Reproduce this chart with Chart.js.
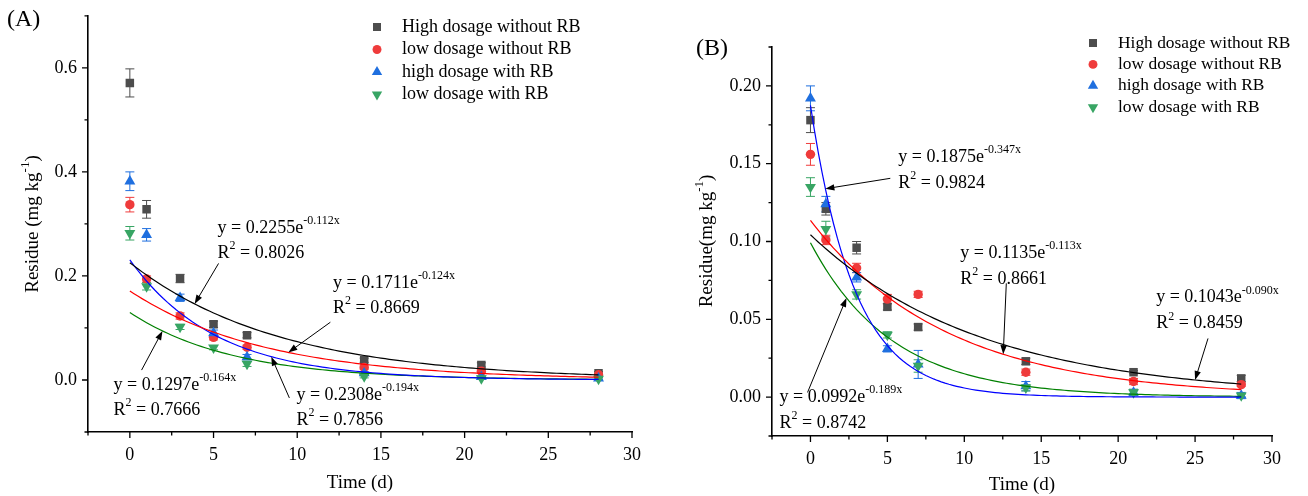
<!DOCTYPE html>
<html>
<head>
<meta charset="utf-8">
<script src="https://cdn.jsdelivr.net/npm/chart.js@4.4.1/dist/chart.umd.min.js"></script>
<style>
  html, body { margin: 0; padding: 0; background: #fff; }
  #wrap { position: relative; width: 1308px; height: 496px; }
  .panel { position: absolute; top: 0; width: 654px; height: 496px; }
</style>
</head>
<body>
<div id="wrap">
  <div class="panel" style="left:0"><canvas id="chartA" width="654" height="496"></canvas></div>
  <div class="panel" style="left:654px"><canvas id="chartB" width="654" height="496"></canvas></div>
</div>
<script>
// sampling days
const days = [0, 1, 3, 5, 7, 14, 21, 28];
const seriesNames = ['High dosage without RB', 'low dosage without RB', 'high dosage with RB', 'low dosage with RB'];

// panel A residues (mg/kg) and standard deviations
const highNoRbA = [0.571, 0.328, 0.195, 0.107, 0.086, 0.038, 0.029, 0.013];
const highNoRbErrA = [0.027, 0.017, 0.008, 0.006, 0.005, 0.004, 0.004, 0.003];
const lowNoRbA = [0.337, 0.194, 0.123, 0.082, 0.063, 0.024, 0.017, 0.010];
const lowNoRbErrA = [0.014, 0.006, 0.006, 0.005, 0.004, 0.003, 0.003, 0.002];
const highRbA = [0.382, 0.279, 0.158, 0.090, 0.044, 0.013, 0.006, 0.003];
const highRbErrA = [0.018, 0.012, 0.007, 0.006, 0.005, 0.003, 0.002, 0.002];
const lowRbA = [0.282, 0.180, 0.102, 0.062, 0.031, 0.007, 0.003, 0.002];
const lowRbErrA = [0.013, 0.007, 0.005, 0.004, 0.005, 0.003, 0.002, 0.002];

// panel B residues and standard deviations
const highNoRbB = [0.178, 0.121, 0.096, 0.058, 0.045, 0.023, 0.016, 0.012];
const highNoRbErrB = [0.008, 0.004, 0.004, 0.002, 0.002, 0.002, 0.001, 0.002];
const lowNoRbB = [0.156, 0.101, 0.083, 0.063, 0.066, 0.016, 0.010, 0.008];
const lowNoRbErrB = [0.007, 0.003, 0.003, 0.003, 0.002, 0.002, 0.002, 0.001];
const highRbB = [0.192, 0.124, 0.077, 0.031, 0.021, 0.007, 0.003, 0.001];
const highRbErrB = [0.008, 0.005, 0.003, 0.002, 0.009, 0.003, 0.002, 0.002];
const lowRbB = [0.135, 0.108, 0.066, 0.040, 0.020, 0.006, 0.003, 0.001];
const lowRbErrB = [0.006, 0.005, 0.003, 0.002, 0.004, 0.002, 0.002, 0.001];

// first-order fits y = a*e^(-k*x), same series order
const fitAmpA = [0.2255, 0.1711, 0.2308, 0.1297];
const fitRateA = [0.112, 0.124, 0.194, 0.164];
const fitR2A = ['0.8026', '0.8669', '0.7856', '0.7666'];
const fitAmpB = [0.1043, 0.1135, 0.1875, 0.0992];
const fitRateB = [0.090, 0.113, 0.347, 0.189];
const fitR2B = ['0.8459', '0.8661', '0.9824', '0.8742'];

// axis ticks
const xTicks = [-2.5, 0, 2.5, 5, 7.5, 10, 12.5, 15, 17.5, 20, 22.5, 25, 27.5, 30];
const xTickLabels = ['', '0', '', '5', '', '10', '', '15', '', '20', '', '25', '', '30'];
const yTicksA = [-0.1, 0, 0.1, 0.2, 0.3, 0.4, 0.5, 0.6, 0.7];
const yTickLabelsA = ['', '0.0', '', '0.2', '', '0.4', '', '0.6', ''];
const yTicksB = [-0.025, 0, 0.025, 0.05, 0.075, 0.1, 0.125, 0.15, 0.175, 0.2, 0.225];
const yTickLabelsB = ['', '0.00', '', '0.05', '', '0.10', '', '0.15', '', '0.20', ''];

const serif = "'Liberation Serif', 'Times New Roman', serif";
const markerColors = ['#4d4d4d', '#ef3b3b', '#1f6fdf', '#38a564'];
const lineColors = ['#000000', '#ff0000', '#0000ff', '#008000'];
const markerStyles = [
  { pointStyle: 'rect', radius: 6, rotation: 0 },
  { pointStyle: 'circle', radius: 4.7, rotation: 0 },
  { pointStyle: 'triangle', radius: 6.3, rotation: 0 },
  { pointStyle: 'triangle', radius: 6.3, rotation: 180 }
];

function pointSet(i, ys, errs) {
  const m = markerStyles[i];
  return {
    type: 'scatter',
    label: seriesNames[i],
    data: days.map((d, j) => ({ x: d, y: ys[j] })),
    errors: errs,
    pointStyle: m.pointStyle,
    rotation: m.rotation,
    pointRadius: m.radius,
    pointHoverRadius: m.radius,
    backgroundColor: markerColors[i],
    borderColor: markerColors[i],
    borderWidth: 0,
    order: 4 - i + 1
  };
}

function fitSet(i, amp, rate) {
  const pts = [];
  for (let t = 0; t <= 28.001; t += 0.25) pts.push({ x: t, y: amp * Math.exp(-rate * t) });
  return {
    type: 'line',
    label: seriesNames[i] + ' fit',
    data: pts,
    borderColor: lineColors[i],
    borderWidth: 1.2,
    pointRadius: 0,
    fill: false,
    tension: 0,
    order: 0
  };
}

// text with superscript pieces: strings or {sup: '...'}
function richWidth(ctx, parts, size) {
  let w = 0;
  for (const p of parts) {
    ctx.font = (typeof p === 'string' ? size : Math.round(size * 0.67)) + 'px ' + serif;
    w += ctx.measureText(typeof p === 'string' ? p : p.sup).width;
  }
  return w;
}
function richText(ctx, parts, x, y, size) {
  let cx = x;
  for (const p of parts) {
    if (typeof p === 'string') {
      ctx.font = size + 'px ' + serif;
      ctx.fillText(p, cx, y);
      cx += ctx.measureText(p).width;
    } else {
      ctx.font = Math.round(size * 0.67) + 'px ' + serif;
      ctx.fillText(p.sup, cx, y - size * 0.4);
      cx += ctx.measureText(p.sup).width;
    }
  }
}

function arrow(ctx, x1, y1, x2, y2) {
  const a = Math.atan2(y2 - y1, x2 - x1);
  const L = 9, W = 3.2;
  ctx.beginPath();
  ctx.moveTo(x1, y1);
  ctx.lineTo(x2 - Math.cos(a) * L * 0.7, y2 - Math.sin(a) * L * 0.7);
  ctx.stroke();
  ctx.beginPath();
  ctx.moveTo(x2, y2);
  ctx.lineTo(x2 - L * Math.cos(a) + W * Math.sin(a), y2 - L * Math.sin(a) - W * Math.cos(a));
  ctx.lineTo(x2 - L * Math.cos(a) - W * Math.sin(a), y2 - L * Math.sin(a) + W * Math.cos(a));
  ctx.closePath();
  ctx.fill();
}

// error bars under the markers
const errorBars = {
  id: 'errorBars',
  beforeDatasetsDraw(chart) {
    const ctx = chart.ctx, ys = chart.scales.y;
    ctx.save();
    ctx.lineWidth = 1;
    chart.data.datasets.forEach((ds, di) => {
      if (!ds.errors) return;
      const meta = chart.getDatasetMeta(di);
      ctx.strokeStyle = ds.borderColor;
      meta.data.forEach((pt, j) => {
        const v = ds.data[j].y, e = ds.errors[j];
        const top = ys.getPixelForValue(v + e), bot = ys.getPixelForValue(v - e);
        ctx.beginPath();
        ctx.moveTo(pt.x, top); ctx.lineTo(pt.x, bot);
        ctx.moveTo(pt.x - 4.5, top); ctx.lineTo(pt.x + 4.5, top);
        ctx.moveTo(pt.x - 4.5, bot); ctx.lineTo(pt.x + 4.5, bot);
        ctx.stroke();
      });
    });
    ctx.restore();
  }
};

// ticks, titles, legend and fit equations for one panel
function decor(cfg) {
  return {
    id: 'decor',
    afterDraw(chart) {
      const ctx = chart.ctx, xs = chart.scales.x, ys = chart.scales.y, area = chart.chartArea;
      ctx.save();
      ctx.fillStyle = '#000';
      ctx.strokeStyle = '#000';

      // tick marks, long on labelled ticks
      ctx.lineWidth = 1.3;
      ctx.beginPath();
      xTicks.forEach((v, i) => {
        const px = xs.getPixelForValue(v), len = xTickLabels[i] ? 6 : 3.5;
        ctx.moveTo(px, area.bottom); ctx.lineTo(px, area.bottom + len);
      });
      cfg.yTicks.forEach((v, i) => {
        const py = ys.getPixelForValue(v), len = cfg.yLabels[i] ? 6 : 3.5;
        ctx.moveTo(area.left, py); ctx.lineTo(area.left - len, py);
      });
      ctx.stroke();

      ctx.textBaseline = 'middle';
      ctx.textAlign = 'left';
      ctx.font = '24px ' + serif;
      ctx.fillText(cfg.panel, cfg.panelPos[0], cfg.panelPos[1]);

      // axis titles
      ctx.font = '19px ' + serif;
      ctx.textAlign = 'center';
      ctx.fillText('Time (d)', (area.left + area.right) / 2, cfg.xTitleY);
      ctx.textAlign = 'left';
      const tw = richWidth(ctx, cfg.yTitle, 19);
      ctx.save();
      ctx.translate(cfg.yTitlePos[0], cfg.yTitlePos[1]);
      ctx.rotate(-Math.PI / 2);
      richText(ctx, cfg.yTitle, -tw / 2, 0, 19);
      ctx.restore();

      // legend
      seriesNames.forEach((name, i) => {
        const y = cfg.legend.top + i * cfg.legend.step;
        const m = markerStyles[i];
        ctx.fillStyle = markerColors[i];
        Chart.helpers.drawPoint(ctx, { pointStyle: m.pointStyle, radius: m.radius * 0.95, rotation: m.rotation, borderWidth: 0 }, cfg.legend.markerX, y);
        ctx.fillStyle = '#000';
        ctx.font = cfg.legend.size + 'px ' + serif;
        ctx.fillText(name, cfg.legend.textX, y);
      });

      // fit equations with arrows onto the curves
      ctx.lineWidth = 1;
      cfg.notes.forEach(n => {
        const a = cfg.amp[n.series], k = cfg.rate[n.series];
        const tx = xs.getPixelForValue(n.x), ty = ys.getPixelForValue(n.y);
        richText(ctx, ['y = ' + a.toFixed(4) + 'e', { sup: '-' + k.toFixed(3) + 'x' }], tx, ty, 18);
        richText(ctx, ['R', { sup: '2' }, ' = ' + cfg.r2[n.series]], tx, ty + cfg.lineGap, 18);
        const hx = xs.getPixelForValue(n.tipX), hy = ys.getPixelForValue(a * Math.exp(-k * n.tipX));
        arrow(ctx, xs.getPixelForValue(n.tail[0]), ys.getPixelForValue(n.tail[1]), hx, hy);
      });
      ctx.restore();
    }
  };
}

function makeChart(id, sets, fits, cfg) {
  const datasets = [];
  fits.forEach(f => datasets.push(f));
  sets.forEach(s => datasets.push(s));
  return new Chart(document.getElementById(id), {
    data: { datasets },
    options: {
      responsive: false,
      animation: false,
      events: [],
      layout: { padding: { left: 0, bottom: 0, top: cfg.padTop, right: cfg.padRight } },
      plugins: { legend: { display: false }, tooltip: { enabled: false } },
      scales: {
        x: {
          type: 'linear', min: -2.5, max: 30,
          afterFit(scale) { scale.height = cfg.xAxisHeight; },
          afterBuildTicks(scale) { scale.ticks = xTicks.map(v => ({ value: v })); },
          grid: { display: true, drawOnChartArea: false, drawTicks: true, tickLength: 6, tickColor: 'rgba(0,0,0,0)' },
          border: { display: true, color: '#000', width: 1.6 },
          ticks: { autoSkip: false, maxRotation: 0, padding: 6, color: '#000', font: { family: serif, size: 18 },
                   callback: (v, i) => xTickLabels[i] }
        },
        y: {
          type: 'linear', min: cfg.yTicks[0], max: cfg.yTicks[cfg.yTicks.length - 1],
          afterFit(scale) { scale.width = cfg.yAxisWidth; },
          afterBuildTicks(scale) { scale.ticks = cfg.yTicks.map(v => ({ value: v })); },
          grid: { display: true, drawOnChartArea: false, drawTicks: true, tickLength: 6, tickColor: 'rgba(0,0,0,0)' },
          border: { display: true, color: '#000', width: 1.6 },
          ticks: { autoSkip: false, padding: 5, color: '#000', font: { family: serif, size: 18 },
                   callback: (v, i) => cfg.yLabels[i] }
        }
      }
    },
    plugins: [errorBars, decor(cfg)]
  });
}

makeChart('chartA',
  [pointSet(0, highNoRbA, highNoRbErrA), pointSet(1, lowNoRbA, lowNoRbErrA),
   pointSet(2, highRbA, highRbErrA), pointSet(3, lowRbA, lowRbErrA)],
  fitAmpA.map((a, i) => fitSet(i, a, fitRateA[i])),
  {
    yAxisWidth: 88, xAxisHeight: 64, padTop: 15, padRight: 22,
    yTicks: yTicksA, yLabels: yTickLabelsA,
    panel: '(A)', panelPos: [7, 20],
    xTitleY: 483,
    yTitle: ['Residue (mg kg', { sup: '-1' }, ')'], yTitlePos: [33, 224],
    legend: { markerX: 377, textX: 402, top: 27, step: 22.5, size: 18 },
    amp: fitAmpA, rate: fitRateA, r2: fitR2A, lineGap: 25,
    notes: [
      { series: 0, x: 5.24, y: 0.292, tail: [5.30, 0.224], tipX: 3.87 },
      { series: 1, x: 12.14, y: 0.1854, tail: [11.98, 0.111], tipX: 9.47 },
      { series: 2, x: 9.95, y: -0.0288, tail: [9.53, -0.0345], tipX: 8.45 },
      { series: 3, x: -0.97, y: -0.0096, tail: [0.70, 0.019], tipX: 1.95 }
    ]
  });

makeChart('chartB',
  [pointSet(0, highNoRbB, highNoRbErrB), pointSet(1, lowNoRbB, lowNoRbErrB),
   pointSet(2, highRbB, highRbErrB), pointSet(3, lowRbB, lowRbErrB)],
  fitAmpB.map((a, i) => fitSet(i, a, fitRateB[i])),
  {
    yAxisWidth: 118, xAxisHeight: 60, padTop: 47, padRight: 36,
    yTicks: yTicksB, yLabels: yTickLabelsB,
    panel: '(B)', panelPos: [42, 49],
    xTitleY: 485,
    yTitle: ['Residue(mg kg', { sup: '-1' }, ')'], yTitlePos: [53, 241],
    legend: { markerX: 439, textX: 464, top: 43, step: 21.4, size: 17.4 },
    amp: fitAmpB, rate: fitRateB, r2: fitR2B, lineGap: 26,
    notes: [
      { series: 0, x: 22.47, y: 0.0639, tail: [25.84, 0.0377], tipX: 25.0 },
      { series: 1, x: 9.74, y: 0.0924, tail: [12.73, 0.0731], tipX: 12.53 },
      { series: 2, x: 5.71, y: 0.1542, tail: [5.19, 0.1406], tipX: 0.97 },
      { series: 3, x: -2.01, y: 0.0, tail: [-0.19, 0.003], tipX: 2.34 }
    ]
  });
</script>
</body>
</html>
